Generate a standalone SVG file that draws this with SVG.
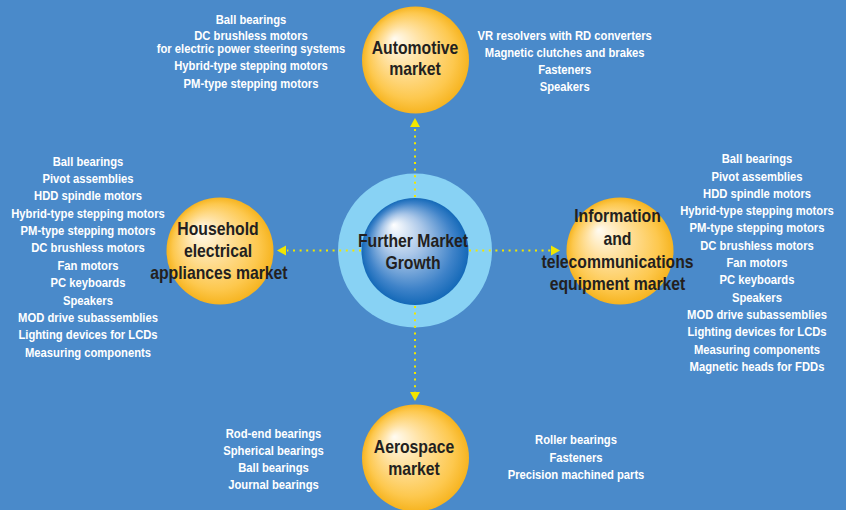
<svg xmlns="http://www.w3.org/2000/svg" width="846" height="510" viewBox="0 0 846 510">
<style>
.bg{fill:#4A8ACA}
.list{font-family:"Liberation Sans",Arial,sans-serif;font-weight:bold;font-size:12.5px;fill:#FFFFFF;text-anchor:middle}
.lbl{font-family:"Liberation Sans",Arial,sans-serif;font-weight:bold;font-size:17.5px;fill:#231F20;text-anchor:middle}
.dot{stroke:#F2E600;stroke-width:2;stroke-dasharray:2 4.6;fill:none}
.head{fill:#F2E600}
.orb{fill:url(#gOrange)}
</style>
<defs>
<radialGradient id="gOrange" cx="0.5" cy="0.5" r="0.5" fx="0.3" fy="0.3">
<stop offset="0" stop-color="#FFFBF2"/>
<stop offset="0.35" stop-color="#FFE3A6"/>
<stop offset="0.8" stop-color="#FDC84E"/>
<stop offset="1" stop-color="#F6B420"/>
</radialGradient>
<radialGradient id="gBlue" cx="0.5" cy="0.5" r="0.5" fx="0.3" fy="0.25">
<stop offset="0" stop-color="#FFFFFF"/>
<stop offset="0.4" stop-color="#A9C6E8"/>
<stop offset="0.8" stop-color="#3F83C9"/>
<stop offset="1" stop-color="#1469B8"/>
</radialGradient>
</defs>
<rect class="bg" x="0" y="0" width="846" height="510"/>

<g id="center">
<circle cx="415" cy="250.5" r="77" fill="#88D2F4"/>
<circle cx="415" cy="251.5" r="53.5" fill="url(#gBlue)"/>
</g>

<g id="connectors">
<line class="dot" x1="415" y1="197" x2="415" y2="128"/>
<polygon class="head" points="415,118 410,127 420,127"/>
<line class="dot" x1="415" y1="306" x2="415" y2="392"/>
<polygon class="head" points="415,401 410,392 420,392"/>
<line class="dot" x1="361" y1="250.5" x2="287" y2="250.5"/>
<polygon class="head" points="277,250.5 286,245.5 286,255.5"/>
<line class="dot" x1="469" y1="250.5" x2="551" y2="250.5"/>
<polygon class="head" points="560,250.5 551,245.5 551,255.5"/>
</g>

<g id="center-label" transform="translate(413 0) scale(0.9 1)">
<text class="lbl" x="0" y="247">Further Market</text>
<text class="lbl" x="0" y="269">Growth</text>
</g>

<g id="automotive">
<circle class="orb" cx="415.5" cy="60" r="53.5"/>
<g transform="translate(415 0) scale(0.9 1)">
<text class="lbl" x="0" y="54">Automotive</text>
<text class="lbl" x="0" y="75">market</text>
</g>
</g>

<g id="household">
<circle class="orb" cx="220" cy="251" r="53.5"/>
<g transform="translate(218 0) scale(0.9 1)">
<text class="lbl" x="0" y="235.5">Household</text>
<text class="lbl" x="0" y="257">electrical</text>
<text class="lbl" x="1" y="279.5">appliances market</text>
</g>
</g>

<g id="information">
<circle class="orb" cx="620" cy="251" r="53.5"/>
<g transform="translate(617.5 0) scale(0.9 1)">
<text class="lbl" x="0" y="222">Information</text>
<text class="lbl" x="0" y="245.5">and</text>
<text class="lbl" x="0" y="268.5">telecommunications</text>
<text class="lbl" x="0" y="290">equipment market</text>
</g>
</g>

<g id="aerospace">
<circle class="orb" cx="415.5" cy="458" r="53.5"/>
<g transform="translate(414 0) scale(0.9 1)">
<text class="lbl" x="0" y="453.5">Aerospace</text>
<text class="lbl" x="0" y="475">market</text>
</g>
</g>

<g id="automotive-list-left" transform="translate(251 0) scale(0.9 1)">
<text class="list" x="0" y="24.3">Ball bearings</text>
<text class="list" x="0" y="40.5">DC brushless motors</text>
<text class="list" x="0" y="53.5">for electric power steering systems</text>
<text class="list" x="0" y="70.3">Hybrid-type stepping motors</text>
<text class="list" x="0" y="88.3">PM-type stepping motors</text>
</g>

<g id="automotive-list-right" transform="translate(564.7 0) scale(0.9 1)">
<text class="list" x="0" y="40">VR resolvers with RD converters</text>
<text class="list" x="0" y="57">Magnetic clutches and brakes</text>
<text class="list" x="0" y="74.5">Fasteners</text>
<text class="list" x="0" y="91">Speakers</text>
</g>

<g id="household-list" transform="translate(88 0) scale(0.9 1)">
<text class="list" x="0" y="165.7">Ball bearings</text>
<text class="list" x="0" y="183">Pivot assemblies</text>
<text class="list" x="0" y="200.4">HDD spindle motors</text>
<text class="list" x="0" y="217.8">Hybrid-type stepping motors</text>
<text class="list" x="0" y="235.1">PM-type stepping motors</text>
<text class="list" x="0" y="252.5">DC brushless motors</text>
<text class="list" x="0" y="269.9">Fan motors</text>
<text class="list" x="0" y="287.2">PC keyboards</text>
<text class="list" x="0" y="304.6">Speakers</text>
<text class="list" x="0" y="322">MOD drive subassemblies</text>
<text class="list" x="0" y="339.3">Lighting devices for LCDs</text>
<text class="list" x="0" y="356.7">Measuring components</text>
</g>

<g id="information-list" transform="translate(757 0) scale(0.9 1)">
<text class="list" x="0" y="163.3">Ball bearings</text>
<text class="list" x="0" y="180.6">Pivot assemblies</text>
<text class="list" x="0" y="197.9">HDD spindle motors</text>
<text class="list" x="0" y="215.2">Hybrid-type stepping motors</text>
<text class="list" x="0" y="232.5">PM-type stepping motors</text>
<text class="list" x="0" y="249.8">DC brushless motors</text>
<text class="list" x="0" y="267.1">Fan motors</text>
<text class="list" x="0" y="284.4">PC keyboards</text>
<text class="list" x="0" y="301.7">Speakers</text>
<text class="list" x="0" y="319">MOD drive subassemblies</text>
<text class="list" x="0" y="336.3">Lighting devices for LCDs</text>
<text class="list" x="0" y="353.6">Measuring components</text>
<text class="list" x="0" y="370.9">Magnetic heads for FDDs</text>
</g>

<g id="aerospace-list-left" transform="translate(273.5 0) scale(0.9 1)">
<text class="list" x="0" y="438.3">Rod-end bearings</text>
<text class="list" x="0" y="455.2">Spherical bearings</text>
<text class="list" x="0" y="472.1">Ball bearings</text>
<text class="list" x="0" y="489">Journal bearings</text>
</g>

<g id="aerospace-list-right" transform="translate(576 0) scale(0.9 1)">
<text class="list" x="0" y="444.3">Roller bearings</text>
<text class="list" x="0" y="461.7">Fasteners</text>
<text class="list" x="0" y="479">Precision machined parts</text>
</g>
</svg>
